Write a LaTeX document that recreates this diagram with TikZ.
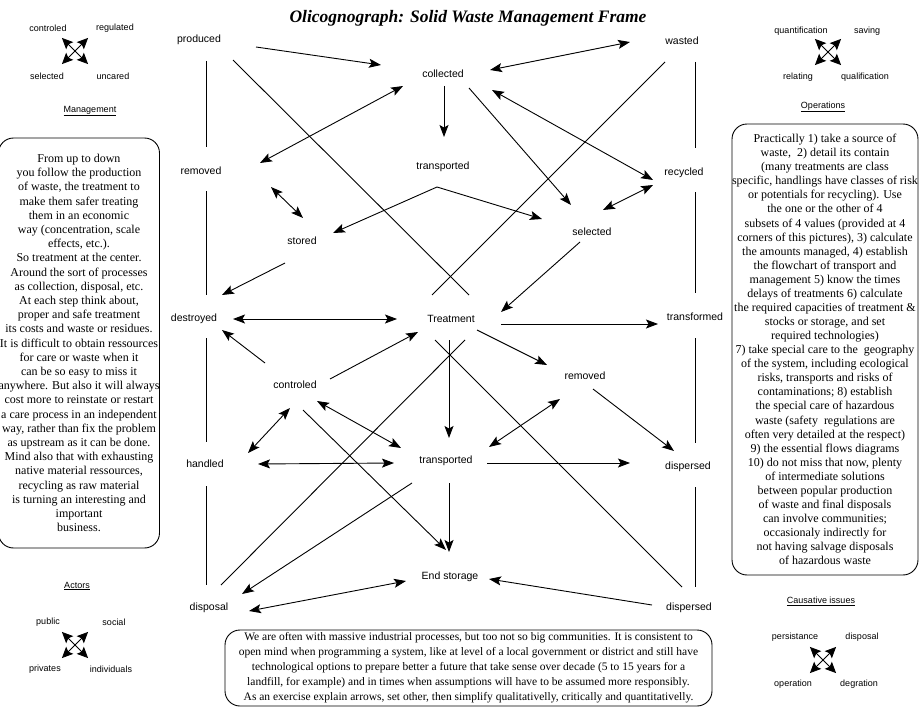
\documentclass[tikz,border=0pt]{standalone}
\usepackage{fontspec}
\setmainfont{Liberation Serif}
\setsansfont{Liberation Sans}
\usetikzlibrary{arrows.meta,calc}
\tikzset{
  lbl/.style={font=\sffamily\fontsize{10.5}{12}\selectfont, inner sep=0pt},
  clbl/.style={font=\sffamily\fontsize{9}{11}\selectfont, inner sep=0pt},
  conn/.style={line width=0.9pt},
  arr/.style={conn,-{Stealth[length=12pt,width=9pt,inset=2.5pt]}},
  dbl/.style={conn,{Stealth[length=12pt,width=9pt,inset=2.5pt]}-{Stealth[length=12pt,width=9pt,inset=2.5pt]}},
  cmp/.style={line width=0.8pt,-{Stealth[length=11pt,width=10pt,inset=2pt]}},
  note/.style={draw, line width=0.9pt, rounded corners=15pt, inner sep=0pt, align=center},
}
\newcommand{\compassicon}[1]{%
  \foreach \ang in {45,135,225,315} \draw[cmp] (#1) -- ++(\ang:18.5);}
\begin{document}
\begin{tikzpicture}[x=1pt,y=-1pt]
\useasboundingbox (0,0) rectangle (919,709);
% title
\node[font=\bfseries\itshape\fontsize{17.5}{19}\selectfont, inner sep=0pt] (title) at (468,18) {Olicognograph: Solid Waste Management Frame};
% main nodes
\node[lbl] (produced) at (199,40) {produced};
\node[lbl] (wasted) at (682,41) {wasted};
\node[lbl] (collected) at (443,74) {collected};
\node[lbl] (removedL) at (201,171) {removed};
\node[lbl] (transT) at (443,167) {transported};
\node[lbl] (recycled) at (684,173) {recycled};
\node[lbl] (stored) at (302,241) {stored};
\node[lbl] (selected) at (592,232) {selected};
\node[lbl] (destroyed) at (194,319) {destroyed};
\node[lbl] (treatment) at (451,319) {Treatment};
\node[lbl] (transformed) at (695,317) {transformed};
\node[lbl] (controled) at (295,385) {controled};
\node[lbl] (removedR) at (585,376) {removed};
\node[lbl] (handled) at (205,464) {handled};
\node[lbl] (transM) at (446,461) {transported};
\node[lbl] (dispersedM) at (688,467) {dispersed};
\node[lbl] (endstorage) at (450,577) {End storage};
\node[lbl] (disposal) at (209,608) {disposal};
\node[lbl] (dispersedB) at (689,608) {dispersed};
% connectors
\draw[arr] ($(produced)+(57,7)$) -- ($(collected)+(-62,-9)$);
\draw[dbl] ($(collected)+(47,-4)$) -- ($(wasted)+(-52,1)$);
\draw[dbl] ($(collected)+(-40,12)$) -- ($(removedL)+(59,-8)$);
\draw[arr] ($(collected)+(1,12)$) -- ($(transT)+(1,-30)$);
\draw[arr] ($(collected)+(26,14)$) -- ($(selected)+(-21,-27)$);
\draw[dbl] ($(collected)+(49,16)$) -- ($(recycled)+(-31,7)$);
\draw[conn] ($(produced)+(34,20)$) -- ($(treatment)+(18,-24)$);
\draw[conn] ($(wasted)+(-17,21)$) -- ($(treatment)+(-19,-24)$);
% left column
\draw[conn] ($(produced)+(7,21)$) -- ($(removedL)+(5,-24)$);
\draw[conn] ($(removedL)+(5,20)$) -- ($(destroyed)+(12,-24)$);
\draw[conn] ($(destroyed)+(12,19)$) -- ($(handled)+(1,-22)$);
\draw[conn] ($(handled)+(1,22)$) -- ($(disposal)+(-3,-23)$);
% right column
\draw[conn] ($(wasted)+(13,21)$) -- ($(recycled)+(11,-25)$);
\draw[conn] ($(recycled)+(11,19)$) -- ($(transformed)+(0,-24)$);
\draw[conn] ($(transformed)+(0,21)$) -- ($(dispersedM)+(7,-24)$);
\draw[conn] ($(dispersedM)+(7,20)$) -- ($(dispersedB)+(6,-21)$);
% middle
\draw[dbl] ($(removedL)+(70,16)$) -- ($(stored)+(1,-23)$);
\draw[arr] ($(transT)+(-6,20)$) -- ($(stored)+(31,-8)$);
\draw[arr] ($(transT)+(-6,20)$) -- ($(selected)+(-50,-13)$);
\draw[dbl] ($(recycled)+(-31,12)$) -- ($(selected)+(11,-22)$);
\draw[arr] ($(stored)+(-17,22)$) -- ($(destroyed)+(28,-24)$);
\draw[arr] ($(selected)+(-12,10)$) -- ($(treatment)+(50,-7)$);
\draw[dbl] ($(destroyed)+(39,0)$) -- ($(treatment)+(-54,0)$);
\draw[arr] ($(treatment)+(50,5)$) -- ($(transformed)+(-37,7)$);
\draw[arr] ($(controled)+(-30,-22)$) -- ($(destroyed)+(28,11)$);
\draw[arr] ($(controled)+(35,-6)$) -- ($(treatment)+(-33,13)$);
\draw[arr] ($(treatment)+(26,11)$) -- ($(removedR)+(-38,-11)$);
\draw[arr] ($(treatment)+(-2,21)$) -- ($(transM)+(3,-23)$);
\draw[conn] ($(disposal)+(12,-23)$) -- ($(treatment)+(14,21)$);
\draw[conn] ($(dispersedB)+(-7,-21)$) -- ($(treatment)+(-16,21)$);
\draw[dbl] ($(controled)+(-5,23)$) -- ($(handled)+(43,-11)$);
\draw[dbl] ($(controled)+(22,16)$) -- ($(transM)+(-45,-13)$);
\draw[arr] ($(controled)+(8,25)$) -- ($(endstorage)+(-4,-27)$);
\draw[dbl] ($(handled)+(53,0)$) -- ($(transM)+(-52,2)$);
\draw[dbl] ($(removedR)+(-25,23)$) -- ($(transM)+(43,-14)$);
\draw[arr] ($(removedR)+(8,13)$) -- ($(dispersedM)+(-14,-16)$);
\draw[arr] ($(transM)+(41,2)$) -- ($(dispersedM)+(-58,-4)$);
\draw[arr] ($(transM)+(3,22)$) -- ($(endstorage)+(-1,-25)$);
\draw[arr] ($(transM)+(-34,22)$) -- ($(disposal)+(33,-14)$);
\draw[dbl] ($(disposal)+(40,3)$) -- ($(endstorage)+(-44,4)$);
\draw[arr] ($(dispersedB)+(-37,-3)$) -- ($(endstorage)+(39,2)$);
% corner compasses
\node[clbl] (mg1) at (48,28) {controled};
\node[clbl] (mg2) at (115,28) {regulated};
\node[clbl] (mg3) at (47,76) {selected};
\node[clbl] (mg4) at (113,76) {uncared};
\coordinate (mgc) at (75,51);
\compassicon{mgc}
\node[clbl] (mghead) at (90,111) {\underline{Management}};
\node[clbl] (op1) at (801,31) {quantification};
\node[clbl] (op2) at (867,31) {saving};
\node[clbl] (op3) at (798,77) {relating};
\node[clbl] (op4) at (865,77) {qualification};
\coordinate (opc) at (828,52);
\compassicon{opc}
\node[clbl] (ophead) at (823,107) {\underline{Operations}};
\node[clbl] (achead) at (77,586) {\underline{Actors}};
\node[clbl] (ac1) at (48,622) {public};
\node[clbl] (ac2) at (114,622) {social};
\node[clbl] (ac3) at (45,669) {privates};
\node[clbl] (ac4) at (111,669) {individuals};
\coordinate (acc) at (75,645);
\compassicon{acc}
\node[clbl] (cahead) at (821,601) {\underline{Causative issues}};
\node[clbl] (ca1) at (795,637) {persistance};
\node[clbl] (ca2) at (862,637) {disposal};
\node[clbl] (ca3) at (793,684) {operation};
\node[clbl] (ca4) at (859,684) {degration};
\coordinate (cac) at (823,660);
\compassicon{cac}
% notes
\node[note, minimum width=152pt, minimum height=410pt, font=\fontsize{12}{14.2}\selectfont] (leftnote) at (79,343) {From up to down\\
you follow the production\\
of waste, the treatment to\\
make them safer treating\\
them in an economic\\
way (concentration, scale\\
effects, etc.).\\
So treatment at the center.\\
Around the sort of processes\\
as collection, disposal, etc.\\
At each step think about,\\
proper and safe treatment\\
its costs and waste or residues.\\
It is difficult to obtain ressources\\
for care or waste when it\\
can be so easy to miss it\\
anywhere. But also it will always\\
cost more to reinstate or restart\\
a care process in an independent\\
way, rather than fix the problem\\
as upstream as it can be done.\\
Mind also that with exhausting\\
native material ressources,\\
recycling as raw material\\
is turning an interesting and\\
important\\
business.};
\node[note, minimum width=184pt, minimum height=451pt, font=\fontsize{12}{14.07}\selectfont] (rightnote) at (825,349.5) {Practically 1) take a source of\\
waste,\ \ 2) detail its contain\\
(many treatments are class\\
specific, handlings have classes of risk\\
or potentials for recycling). Use\\
the one or the other of 4\\
subsets of 4 values (provided at 4\\
corners of this pictures), 3) calculate\\
the amounts managed, 4) establish\\
the flowchart of transport and\\
management 5) know the times\\
delays of treatments 6) calculate\\
the required capacities of treatment \&\\
stocks or storage, and set\\
required technologies)\\
7) take special care to the\ \ geography\\
of the system, including ecological\\
risks, transports and risks of\\
contaminations; 8) establish\\
the special care of hazardous\\
waste (safety\ \ regulations are\\
often very detailed at the respect)\\
9) the essential flows diagrams\\
10) do not miss that now, plenty\\
of intermediate solutions\\
between popular production\\
of waste and final disposals\\
can involve communities;\\
occasionaly indirectly for\\
not having salvage disposals\\
of hazardous waste};
\node[note, minimum width=487pt, minimum height=76pt, font=\fontsize{11.5}{15}\selectfont] (bottomnote) at (468.5,668) {We are often with massive industrial processes, but too not so big communities. It is consistent to\\
open mind when programming a system, like at level of a local government or district and still have\\
technological options to prepare better a future that take sense over decade (5 to 15 years for a\\
landfill, for example) and in times when assumptions will have to be assumed more responsibly.\\
As an exercise explain arrows, set other, then simplify qualitativelly, critically and quantitativelly.};
\end{tikzpicture}
\end{document}
